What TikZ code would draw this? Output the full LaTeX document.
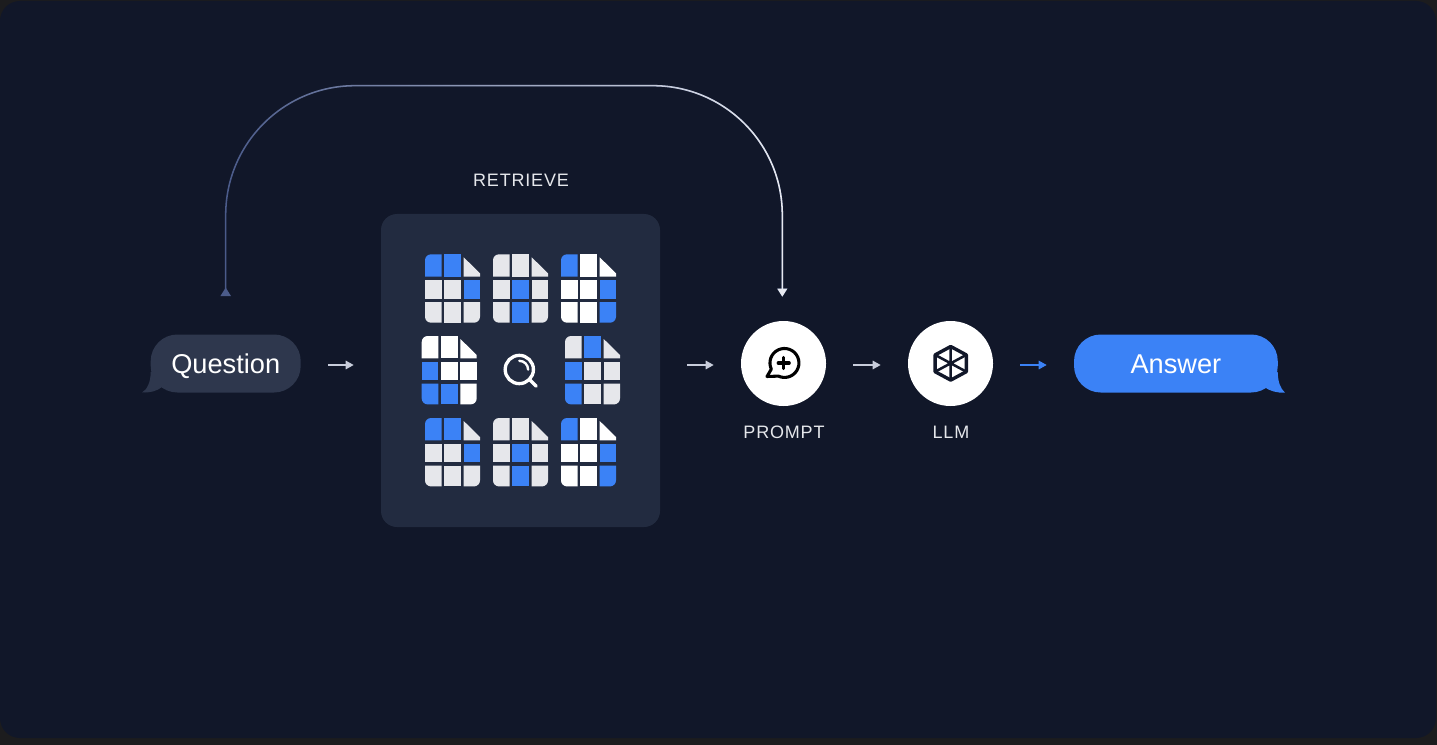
\documentclass[tikz,border=0pt]{standalone}
\usepackage{fontspec}
\setmainfont{Liberation Sans}
\newfontfamily\lab[LetterSpace=4.5]{Liberation Sans}
\usetikzlibrary{arrows.meta,fadings}
\definecolor{pagebg}{HTML}{1C1C1E}
\definecolor{navy}{HTML}{111729}
\definecolor{panelc}{HTML}{222B40}
\definecolor{qbub}{HTML}{2E374D}
\definecolor{B}{HTML}{3B82F6}
\definecolor{G}{HTML}{E6E7EB}
\definecolor{W}{HTML}{FFFFFF}
\definecolor{lineL}{HTML}{4B5B8A}
\definecolor{lineR}{HTML}{E8EAF0}
\definecolor{arrc}{HTML}{C8CDDB}
\definecolor{labc}{HTML}{E5E7EB}
\tikzfading[name=lrfade,left color=transparent!100,right color=transparent!0]
\tikzset{
  bubble/.style={rounded corners=20pt,minimum height=43.5pt,inner sep=0pt,text=white,text height=14.7pt,text depth=0pt,font=\fontsize{20.4pt}{24pt}\selectfont},
  disc/.style={circle,fill=white,minimum size=63.75pt,inner sep=0pt},
  caption/.style={text=labc,inner sep=0pt,font=\fontsize{13.5pt}{16pt}\selectfont\lab},
  flow/.style={line width=1.1pt,shorten >=20.3pt,shorten <=20.3pt,-{Triangle[length=6pt,width=6.4pt]}},
  loopline/.style={line width=1.15pt,rounded corners=97pt,shorten <=28.5pt,shorten >=18pt,
     {Triangle[reversed,length=6.5pt,width=7.8pt]}-{Triangle[length=6pt,width=7.2pt]}},
}
\newcommand\docicon[9]{%
  \fill[#1] (0,22.4) [rounded corners=4.5pt] -- (0,0) [sharp corners] -- (16.7,0) -- (16.7,22.4) -- cycle;
  \fill[#2] (19,0) rectangle (36,22.4);
  \fill[#3] (38.7,3) -- (55,19) -- (55,22.4) -- (38.7,22.4) -- cycle;
  \fill[#4] (0,25.7) rectangle (16.7,44.4);
  \fill[#5] (19,25.7) rectangle (36,44.4);
  \fill[#6] (38.7,25.7) rectangle (55,44.4);
  \fill[#7] (0,47.7) [rounded corners=4.5pt] -- (0,68.4) [sharp corners] -- (16.7,68.4) -- (16.7,47.7) -- cycle;
  \fill[#8] (19,47.7) rectangle (36,68.4);
  \fill[#9] (38.7,47.7) -- (38.7,68.4) [rounded corners=4.5pt] -- (55,68.4) [sharp corners] -- (55,47.7) -- cycle;
}
\newcommand\doca[2]{\begin{scope}[shift={(#1,#2)}]\docicon{B}{B}{G}{G}{G}{B}{G}{G}{G}\end{scope}}
\newcommand\docb[2]{\begin{scope}[shift={(#1,#2)}]\docicon{G}{G}{G}{G}{B}{G}{G}{B}{G}\end{scope}}
\newcommand\docc[2]{\begin{scope}[shift={(#1,#2)}]\docicon{B}{W}{W}{W}{W}{B}{W}{W}{B}\end{scope}}
\newcommand\docd[2]{\begin{scope}[shift={(#1,#2)}]\docicon{W}{W}{W}{B}{W}{W}{B}{B}{W}\end{scope}}
\newcommand\doce[2]{\begin{scope}[shift={(#1,#2)}]\docicon{G}{B}{G}{B}{G}{G}{B}{G}{G}\end{scope}}
\begin{document}
\begin{tikzpicture}[x=0.75pt,y=-0.75pt]
\useasboundingbox (0,0) rectangle (1437,745);
\fill[pagebg] (0,0) rectangle (1437,745);
\fill[navy,rounded corners=15pt] (0,1) rectangle (1436,738);

% tails
\fill[qbub] (150.7,372) .. controls (150.7,382) and (147,390) .. (142,392.4) .. controls (150,393) and (157,391) .. (162,387) -- (172,375) -- cycle;
\fill[B] (1277.7,372) .. controls (1278,382) and (1280,388) .. (1285,392.7) .. controls (1277,393) and (1270,391) .. (1265,387.5) -- (1255,375) -- cycle;

% nodes
\node[bubble,fill=qbub,minimum width=112.5pt] (question) at (225.7,363.5) {Question};
\node[fill=panelc,rounded corners=12pt,minimum width=209.25pt,minimum height=234.75pt,inner sep=0pt] (panel) at (520.5,370.5) {};
\node[disc] (prompt) at (783.5,363.5) {};
\node[disc] (llm) at (950.5,363.5) {};
\node[bubble,fill=B,minimum width=152.8pt] (answer) at (1175.9,363.5) {Answer};
\node[caption] (retrieve) at (521,180) {RETRIEVE};
\node[caption] (promptlabel) at (784,432) {PROMPT};
\node[caption] (llmlabel) at (951,432) {LLM};

\coordinate (axis) at (0,365);
\coordinate (top) at (0,85.7);

% flow arrows
\draw[flow,arrc] (question.east |- axis) -- (panel.west |- axis);
\draw[flow,arrc] (panel.east |- axis) -- (prompt.west |- axis);
\draw[flow,arrc] (prompt.east |- axis) -- (llm.west |- axis);
\draw[flow,B] (llm.east |- axis) -- (answer.west |- axis);

% looping connector with a colour gradient
\draw[loopline,lineL] (question.north) -- (question.north |- top) -- ([xshift=-0.9pt]prompt.north |- top) -- ([xshift=-0.9pt]prompt.north);
\draw[loopline,lineR,path fading=lrfade] (question.north) -- (question.north |- top) -- ([xshift=-0.9pt]prompt.north |- top) -- ([xshift=-0.9pt]prompt.north);

% documents
\doca{425}{254.3}
\docb{493}{254.3}
\docc{561}{254.3}
\docd{421.7}{336}
\doce{565}{336}
\doca{425}{418}
\docb{493}{418}
\docc{561}{418}

% magnifier
\draw[white,line width=2.5pt] (519.3,369.5) circle[radius=10.6pt];
\draw[white,line width=2.5pt,line cap=round] (529,379) -- (536.3,386.3);
\draw[white,line width=1.8pt,line cap=round] (519.3,360.8) arc[start angle=90,end angle=0,radius=6.6pt];

% prompt icon
\draw[black,line width=2.3pt,line join=round] (771.3,369.1) arc[start angle=205,end angle=-115,radius=10.875pt] -- (767,376.5) -- cycle;
\draw[black,line width=2.4pt,line cap=round] (778.2,363) -- (789.2,363);
\draw[black,line width=2.4pt,line cap=round] (783.7,357.5) -- (783.7,368.5);

% llm icon
\begin{scope}[shift={(950.7,363.3)}]
\draw[navy,line width=2.55pt,line join=round] (0,-16.8) -- (15.6,-8.4) -- (15.6,8.4) -- (0,16.8) -- (-15.6,8.4) -- (-15.6,-8.4) -- cycle;
\draw[navy,line width=1.9pt] (0,-16.8) -- (0,16.8) (15.6,-8.4) -- (-15.6,8.4) (15.6,8.4) -- (-15.6,-8.4);
\end{scope}
\end{tikzpicture}
\end{document}
